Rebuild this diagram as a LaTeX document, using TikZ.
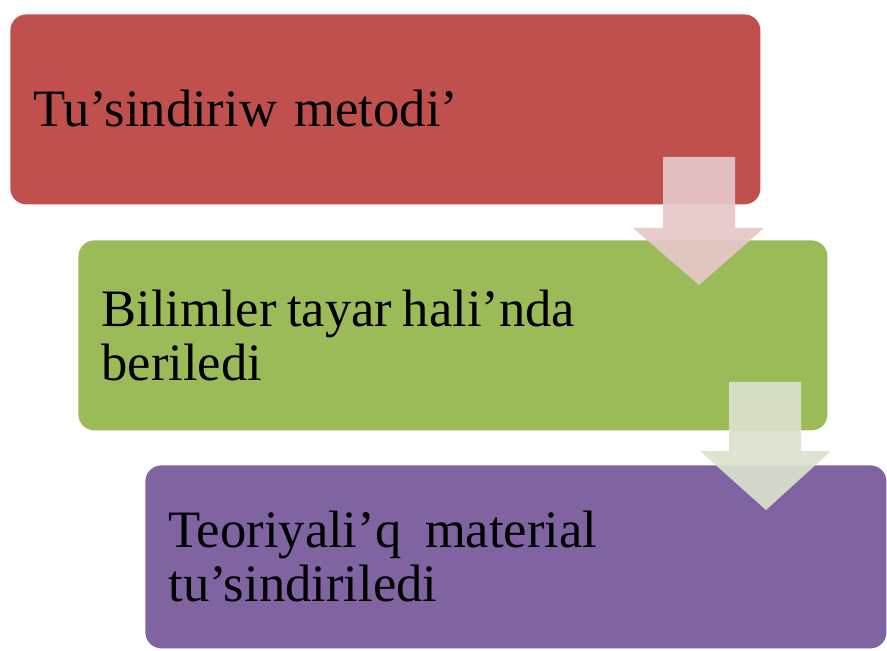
\documentclass[tikz,border=0pt]{standalone}
\usepackage{fontspec}
\setmainfont{Liberation Serif}
\usepackage{tikz}
\usetikzlibrary{calc}
\usetikzlibrary{positioning}

\definecolor{boxred}{RGB}{192,80,77}
\definecolor{boxgreen}{RGB}{155,187,89}
\definecolor{boxviolet}{RGB}{128,100,162}
\definecolor{arrowpink}{RGB}{230,200,200}
\definecolor{arrowsage}{RGB}{218,226,205}

\begin{document}
\begin{tikzpicture}[x=0.5pt, y=-0.5pt,
  step box/.style ={rectangle, rounded corners=8pt, anchor=north west, inner xsep=11.5pt, inner ysep=0pt,
                    align=left, text=black, minimum height=95pt,
                    font=\fontsize{26.3pt}{27pt}\selectfont},
  down arrow/.style={opacity=0.92}]
\useasboundingbox (0,0) rectangle (887,651);
%boxes
\node[step box, fill=boxred, minimum width=375pt, text width=352pt] (method) at (10,14) {\raisebox{1.5pt}{Tu’sindiriw metodi’}};
\node[step box, fill=boxgreen, minimum width=374.5pt, text width=351.5pt] (ready) at (78,240) {Bilimler\hspace{0.2em}tayar\hspace{0.2em}hali’nda\\beriledi};
%first arrow
\coordinate (a1) at (699,157);
\fill[down arrow, arrowpink] ($(a1)+(-36,0)$) -- ($(a1)+(36,0)$) -- ($(a1)+(36,71)$) -- ($(a1)+(65,71)$)
      -- ($(a1)+(0,128)$) -- ($(a1)+(-66,71)$) -- ($(a1)+(-36,71)$) -- cycle;
\node[step box, fill=boxviolet, minimum width=370.5pt, minimum height=91.5pt, text width=347.5pt] (theory) at (145,465) {Teoriyali’q\hspace{0.45em}material\\tu’sindiriledi};
%second arrow
\coordinate (a2) at (765,382);
\fill[down arrow, arrowsage] ($(a2)+(-36,0)$) -- ($(a2)+(36,0)$) -- ($(a2)+(36,69)$) -- ($(a2)+(66,69)$)
      -- ($(a2)+(1,128)$) -- ($(a2)+(-65,69)$) -- ($(a2)+(-36,69)$) -- cycle;
\end{tikzpicture}
\end{document}
